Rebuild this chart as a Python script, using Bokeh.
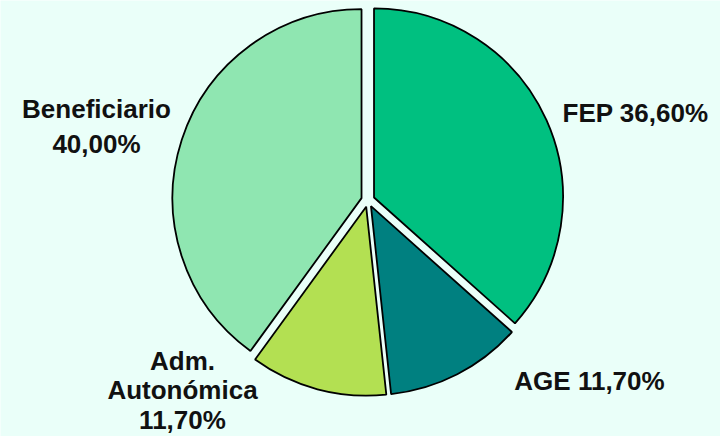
import numpy as np
from bokeh.plotting import figure
from bokeh.models import Range1d, ColumnDataSource
from bokeh.core.properties import value
from bokeh.embed import file_html
from bokeh.resources import INLINE

# ---- data ----
categories = ["FEP", "AGE", "Adm.\nAutonómica", "Beneficiario"]
shares = [36.6, 11.7, 11.7, 40.0]
label_sep = [" ", " ", "\n", "\n"]

# ---- style / layout ----
colors = ["#00c080", "#008080", "#b3e052", "#8fe6b1"]
W, H = 720, 436
PAGE_OFF = 0
BG = "#eafff9"
center_page = (367.4, 199.7)
R = 189.0
EXPLODE = 6.7
label_pos_page = [(635, 112), (589, 380), (182, 390), (96, 126)]
line_heights = [1.15, 1.15, 0.97, 1.14]

def to_data(px, py):
    return px - PAGE_OFF, (H + PAGE_OFF) - py

cx, cy = to_data(*center_page)

vals = np.array(shares, dtype=float)
cum = np.concatenate([[0.0], np.cumsum(vals)]) / vals.sum() * 2 * np.pi
start = np.pi / 2 - cum[:-1]
end = np.pi / 2 - cum[1:]
mid = (start + end) / 2

src = ColumnDataSource(dict(
    x=cx + EXPLODE * np.cos(mid),
    y=cy + EXPLODE * np.sin(mid),
    start=start, end=end, color=colors,
))

def fmt(v):
    return f"{v:.2f}".replace(".", ",") + "%"

texts = [f"{c}{s}{fmt(v)}" for c, s, v in zip(categories, label_sep, shares)]
lx, ly = zip(*[to_data(*p) for p in label_pos_page])
lsrc = ColumnDataSource(dict(x=list(lx), y=list(ly), text=texts, lh=line_heights))

p = figure(width=W, height=H, output_backend="svg", toolbar_location=None,
           x_range=Range1d(0, W), y_range=Range1d(0, H),
           x_axis_type=None, y_axis_type=None, min_border=0)
p.grid.visible = False
p.outline_line_color = None
p.background_fill_color = BG
p.border_fill_color = BG

p.wedge(x="x", y="y", radius=R, start_angle="start", end_angle="end",
        direction="clock", fill_color="color", line_color="black",
        line_width=1.8, source=src)

p.text(x="x", y="y", text="text", source=lsrc,
       text_font=value("Liberation Sans"), text_font_style="bold",
       text_font_size="26px", text_color="#111111",
       text_align="center", text_baseline="middle", text_line_height="lh")

open("out.html", "w").write(file_html(p, INLINE))
